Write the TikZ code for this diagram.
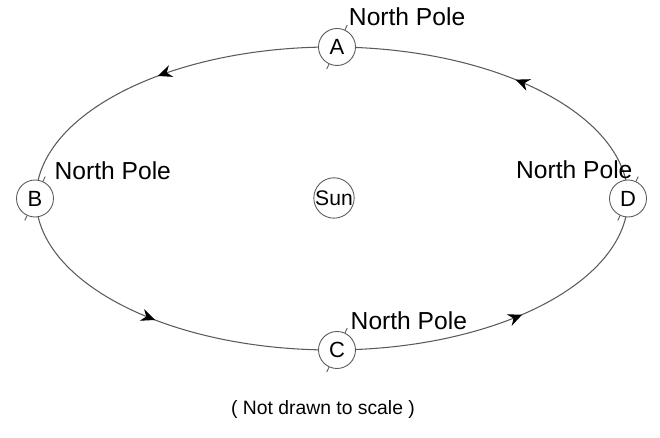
\documentclass[tikz,border=0pt]{standalone}
\usepackage{fontspec}
\setmainfont{Liberation Sans}
\usepackage{tikz}
\usetikzlibrary{arrows.meta,decorations.markings}
\definecolor{orbGray}{HTML}{5A5A5A}

\begin{document}
\begin{tikzpicture}[
    planet/.style={circle, draw=orbGray, fill=white, line width=0.5pt, minimum size=0.74cm,
                   inner sep=0pt, font=\fontsize{12.5}{12.5}\selectfont},
    sun/.style={circle, draw=orbGray, line width=0.5pt, minimum size=0.78cm, inner sep=0pt,
                font=\fontsize{12}{12}\selectfont},
    pole/.style={inner sep=0pt, font=\fontsize{14}{14}\selectfont},
    orbit/.style={draw=orbGray, line width=0.6pt, postaction={decorate},
                  decoration={markings,
                    mark=at position 0.12 with {\arrow[black]{Stealth[length=8pt,width=7pt]}},
                    mark=at position 0.373 with {\arrow[black]{Stealth[length=8pt,width=7pt]}},
                    mark=at position 0.625 with {\arrow[black]{Stealth[length=8pt,width=7pt]}},
                    mark=at position 0.885 with {\arrow[black]{Stealth[length=8pt,width=7pt]}}}}
  ]
  \useasboundingbox (-6.64,-4.79) rectangle (6.56,3.97);

  % orbit
  \path[orbit] (0,0) ellipse (5.92cm and 3.03cm);

  \node[sun] (sun) at (0.04,0.01) {Sun};

  \node[planet] (A) at (0.1,3.03)  {A};
  \node[planet] (B) at (-5.94,0)   {B};
  \node[planet] (C) at (0.1,-3.03) {C};
  \node[planet] (D) at (5.92,0)    {D};

  % axis stubs
  \foreach \p in {A,B,C,D} {
    \draw[orbGray, line width=0.5pt] (\p.65) -- ++(65:3pt);
    \draw[orbGray, line width=0.5pt] (\p.245) -- ++(245:3pt);
  }

  \node[pole, anchor=base west] (npA) at ([xshift=-1pt, yshift=4.4pt]A.north east) {North Pole};
  \node[pole, anchor=base west] (npB) at ([xshift=3.4pt, yshift=3.4pt]B.north east) {North Pole};
  \node[pole, anchor=base west] (npC) at ([yshift=4pt]C.north east) {North Pole};
  \node[pole, anchor=base east] (npD) at ([xshift=-4.9pt, yshift=3.6pt]D.north east) {North Pole};

  \node[font=\fontsize{11}{11}\selectfont] (note) at (-0.18,-4.23) {( Not drawn to scale )};
\end{tikzpicture}
\end{document}
